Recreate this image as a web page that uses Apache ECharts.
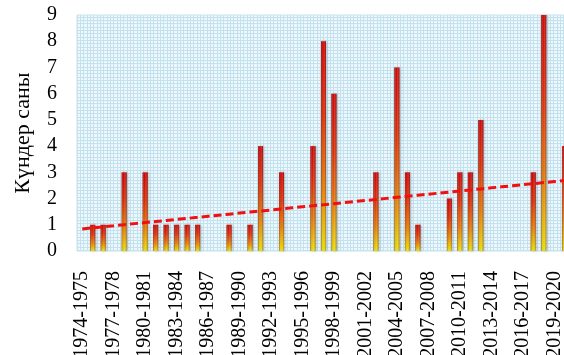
<!DOCTYPE html>
<html>
<head>
<meta charset="utf-8">
<script src="https://cdn.jsdelivr.net/npm/echarts@6/dist/echarts.min.js"></script>
<style>
  html, body { margin: 0; padding: 0; background: #fff; }
  #chart { width: 564px; height: 355px; }
</style>
</head>
<body>
<div id="chart"></div>
<script>
// seasons 1974-1975 ... 2020-2021
var seasons = [];
for (var y = 1974; y <= 2020; y++) seasons.push(y + '-' + (y + 1));

// number of days per season
var days = [0, 1, 1, 0, 3, 0, 3, 1, 1, 1, 1, 1, 0, 0, 1, 0, 1, 4, 0, 3,
            0, 0, 4, 8, 6, 0, 0, 0, 3, 0, 7, 3, 1, 0, 0, 2, 3, 3, 5, 0,
            0, 0, 0, 3, 9, 0, 4];

var yTicks = [0, 9, 1]; // min, max, step

// linear trend (least squares) over the season index
function trend(vals) {
  var n = vals.length, sx = 0, sy = 0, sxy = 0, sxx = 0;
  vals.forEach(function (v, i) { sx += i; sy += v; sxy += i * v; sxx += i * i; });
  var b = (n * sxy - sx * sy) / (n * sxx - sx * sx);
  var a = (sy - b * sx) / n;
  return vals.map(function (v, i) { return +(a + b * i).toFixed(3); });
}

// small blue grid pattern for the plot area
var pat = document.createElement('canvas');
pat.width = 10; pat.height = 10;
var ctx = pat.getContext('2d');
ctx.fillStyle = '#eef8fc';
ctx.fillRect(0, 0, 10, 10);
ctx.fillStyle = '#c3e2ef';
[0, 3, 7].forEach(function (p) {
  ctx.fillRect(p, 0, 1, 10);
  ctx.fillRect(0, p, 10, 1);
});

var serif = 'Liberation Serif';

var chart = echarts.init(document.getElementById('chart'));
chart.setOption({
  animation: false,
  grid: {
    left: 77, right: -6, top: 15, bottom: 104,
    outerBoundsMode: 'none',
    show: true,
    backgroundColor: { image: pat, repeat: 'repeat' },
    borderColor: '#c6e3ef',
    borderWidth: 1
  },
  xAxis: {
    type: 'category',
    data: seasons,
    axisLine: { show: false },
    axisTick: { show: false },
    axisLabel: {
      interval: 2,
      rotate: 90,
      margin: 20,
      color: '#000',
      fontFamily: serif,
      fontSize: 20
    },
    splitLine: { show: false }
  },
  yAxis: {
    type: 'value',
    min: yTicks[0],
    max: yTicks[1],
    interval: yTicks[2],
    name: 'Күндер саны',
    nameLocation: 'middle',
    nameGap: 43,
    nameTextStyle: { color: '#000', fontFamily: serif, fontSize: 22 },
    axisLine: { show: false },
    axisTick: { show: false },
    splitLine: { show: false },
    axisLabel: { color: '#000', fontFamily: serif, fontSize: 20, margin: 20 }
  },
  series: [
    {
      type: 'bar',
      data: days,
      barWidth: 5,
      itemStyle: {
        color: new echarts.graphic.LinearGradient(0, 0, 0, 1, [
          { offset: 0, color: '#cc0000' },
          { offset: 0.35, color: '#d82800' },
          { offset: 0.7, color: '#e27800' },
          { offset: 1, color: '#e8dc00' }
        ]),
        shadowColor: 'rgba(0,0,0,0.25)',
        shadowBlur: 3,
        shadowOffsetX: 1
      }
    },
    {
      type: 'bar',
      data: days,
      barWidth: 5,
      barGap: '-100%',
      silent: true,
      itemStyle: {
        color: new echarts.graphic.LinearGradient(0, 0, 1, 0, [
          { offset: 0, color: 'rgba(70,0,0,0.55)' },
          { offset: 0.35, color: 'rgba(255,255,255,0)' },
          { offset: 0.6, color: 'rgba(255,255,255,0.15)' },
          { offset: 1, color: 'rgba(70,0,0,0.35)' }
        ])
      }
    },
    {
      type: 'line',
      data: trend(days),
      symbol: 'none',
      silent: true,
      z: 5,
      lineStyle: { color: '#f01010', width: 3, type: [8, 4] }
    }
  ]
});
</script>
</body>
</html>
